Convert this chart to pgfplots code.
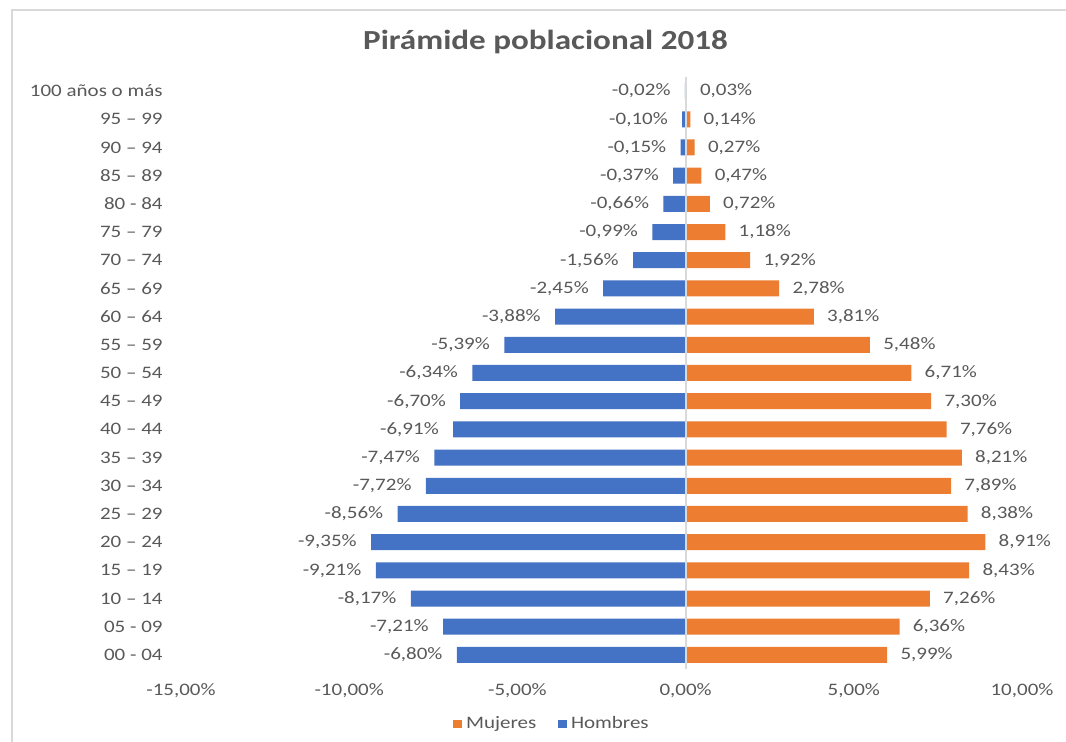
\documentclass[border=0pt]{standalone}
\usepackage{fontspec}
\setmainfont{Carlito}[FakeStretch=1.2]
\usepackage{pgfplots}
\pgfplotsset{compat=1.18}
\definecolor{hblue}{HTML}{4472C4}
\definecolor{morange}{HTML}{ED7D31}
\definecolor{txtgray}{HTML}{595959}
\definecolor{linegray}{HTML}{D9D9D9}
\newcommand{\lblfont}{\fontsize{8.75pt}{10pt}\selectfont}
\begin{document}
\begin{tikzpicture}
\draw[linegray, line width=1pt] (6pt,0pt) -- (6pt,366pt) -- (540pt,366pt);
\node[text=txtgray, font=\fontsize{13.8pt}{16pt}\selectfont\bfseries] at (272.75pt,350pt) {Pirámide poblacional 2018};
\begin{axis}[
  at={(90.5pt,36.5pt)}, anchor=south west,
  scale only axis, width=420.5pt, height=296pt,
  xmin=-15, xmax=10, ymin=-0.5, ymax=20.5,
  xtick={-15,-10,-5,0,5,10},
  ytick={0,...,20},
  yticklabels={00 - 04, 05 - 09, 10 – 14, 15 – 19, 20 – 24, 25 – 29, 30 – 34, 35 – 39, 40 – 44, 45 – 49, 50 – 54, 55 – 59, 60 – 64, 65 – 69, 70 – 74, 75 – 79, 80 - 84, 85 – 89, 90 – 94, 95 – 99, 100 años o más},
  axis line style={draw=none}, tick style={draw=none},
  /pgf/number format/assume math mode=true,
  xticklabel={\pgfmathprintnumber[fixed,fixed zerofill,precision=2,use comma]{\tick}\%},
  xticklabel style={anchor=north, inner sep=0pt, yshift=-7pt, text=txtgray, font=\lblfont},
  yticklabel style={anchor=east, inner sep=0pt, xshift=-9pt, text=txtgray, font=\lblfont},
  legend style={at={(0.4423,-0.0929)}, anchor=center, draw=none, fill=none, font=\lblfont, text=txtgray, legend columns=2, /tikz/every even column/.append style={column sep=9pt}},
  legend image code/.code={\draw[#1,draw=none] (0pt,-2.2pt) rectangle (4.4pt,2.2pt);},
  clip=false,
]
\addplot[xbar, bar width=8pt, bar shift=0pt, fill=morange, draw=none, point meta=x,
  nodes near coords={\pgfmathprintnumber[fixed,fixed zerofill,precision=2,use comma]{\pgfplotspointmeta}\%},
  nodes near coords style={anchor=west, inner sep=0pt, xshift=6.5pt, text=txtgray, font=\lblfont}]
  table[x=v, y=c] {
c v
0 5.99
1 6.36
2 7.26
3 8.43
4 8.91
5 8.38
6 7.89
7 8.21
8 7.76
9 7.30
10 6.71
11 5.48
12 3.81
13 2.78
14 1.92
15 1.18
16 0.72
17 0.47
18 0.27
19 0.14
20 0.03
};
\addlegendentry{Mujeres}
\addplot[xbar, bar width=8pt, bar shift=0pt, fill=hblue, draw=none, point meta=x,
  nodes near coords={\pgfmathprintnumber[fixed,fixed zerofill,precision=2,use comma]{\pgfplotspointmeta}\%},
  nodes near coords style={anchor=east, inner sep=0pt, xshift=-7pt, text=txtgray, font=\lblfont}]
  table[x=v, y=c] {
c v
0 -6.80
1 -7.21
2 -8.17
3 -9.21
4 -9.35
5 -8.56
6 -7.72
7 -7.47
8 -6.91
9 -6.70
10 -6.34
11 -5.39
12 -3.88
13 -2.45
14 -1.56
15 -0.99
16 -0.66
17 -0.37
18 -0.15
19 -0.10
20 -0.02
};
\addlegendentry{Hombres}
\draw[linegray, line width=1pt] (axis cs:0,-0.5) -- (axis cs:0,20.5);
\end{axis}
\pgfresetboundingbox
\path (0pt,0pt) rectangle (533pt,371pt);
\end{tikzpicture}
\end{document}
